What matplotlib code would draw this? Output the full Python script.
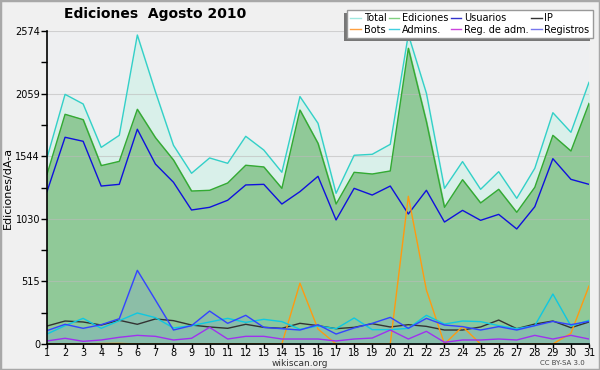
import matplotlib
matplotlib.use("Agg")
import matplotlib.pyplot as plt
from matplotlib.patches import Rectangle
import numpy as np

days = list(range(1, 32))
total = [1530, 2053, 1974, 1617, 1716, 2541, 2075, 1634, 1404, 1530, 1486, 1708, 1595, 1412, 2035,
         1815, 1239, 1552, 1560, 1642, 2545, 2062, 1280, 1500, 1272, 1417, 1198, 1445, 1902, 1741, 2152]
ediciones = [1395, 1889, 1845, 1467, 1502, 1930, 1697, 1513, 1258, 1264, 1324, 1470, 1456, 1280, 1924,
             1650, 1151, 1412, 1398, 1423, 2432, 1828, 1124, 1351, 1160, 1272, 1083, 1289, 1716, 1587, 1979]
usuarios = [1253, 1700, 1667, 1299, 1313, 1766, 1480, 1330, 1102, 1124, 1182, 1308, 1313, 1151, 1253,
            1379, 1020, 1280, 1225, 1299, 1069, 1264, 1003, 1099, 1017, 1066, 946, 1129, 1524, 1354, 1313]
ip = [148, 189, 181, 156, 195, 162, 206, 192, 156, 140, 129, 162, 137, 129, 170,
      151, 126, 137, 167, 140, 159, 145, 115, 115, 140, 197, 126, 164, 189, 134, 181]
bots = [0, 0, 0, 4, 5, 0, 0, 0, 0, 0, 0, 0, 0, 0, 500,
        123, 0, 0, 0, 0, 1215, 444, 0, 143, 0, 0, 0, 0, 0, 88, 477]
admins = [82, 151, 211, 129, 192, 255, 217, 132, 151, 181, 211, 178, 203, 184, 121,
          148, 126, 214, 118, 118, 129, 236, 164, 189, 184, 151, 126, 151, 411, 148, 195]
regadm = [25, 47, 22, 33, 55, 71, 63, 33, 47, 137, 41, 63, 63, 41, 41,
          41, 25, 41, 49, 115, 41, 104, 14, 33, 33, 41, 33, 71, 41, 71, 41]
registros = [110, 162, 129, 159, 208, 606, 362, 115, 151, 271, 170, 236, 137, 126, 115,
             159, 82, 132, 170, 219, 129, 211, 156, 143, 115, 143, 115, 151, 186, 159, 186]
yticks = [0, 515, 1030, 1544, 2059, 2574]

fig = plt.figure(figsize=(6, 3.7), dpi=100, facecolor="#f0f0f0")
fig.patches.append(Rectangle((0, 0), 1, 1, transform=fig.transFigure, fill=False,
                             edgecolor="#a8a8a8", linewidth=2.5))
ax = fig.add_axes([47/600, 26/370, 542/600, 313/370])
ax.set_facecolor("#eeeff1")

ax.fill_between(days, total, color="#d9f0ea", zorder=1)
ax.fill_between(days, ediciones, color="#90c998", zorder=2)
ax.fill_between(days, registros, color="#7a8cf0", alpha=0.18, zorder=2.5)
ax.fill_between(days, admins, color="#60c0d0", alpha=0.10, zorder=2.5)

lw = 1.0
ax.plot(days, total, color="#33d0c8", lw=lw, zorder=5)
ax.plot(days, ediciones, color="#33aa33", lw=lw, zorder=5)
ax.plot(days, usuarios, color="#1010dd", lw=lw, zorder=5)
ax.plot(days, ip, color="#333333", lw=lw, zorder=5)
ax.plot(days, bots, color="#ff9a10", lw=lw, zorder=5)
ax.plot(days, admins, color="#10c8e0", lw=lw, zorder=5)
ax.plot(days, regadm, color="#a030f0", lw=lw, zorder=5)
ax.plot(days, registros, color="#3344ff", lw=lw, zorder=5)

ax.set_xlim(1, 31)
ax.set_ylim(0, 2574)
ax.set_xticks(days)
ax.set_yticks(yticks)
ax.set_yticks([257.5, 772.5, 1287, 1801.5, 2316.5], minor=True)
ax.tick_params(axis="y", labelsize=7, length=4, width=1, color="black", pad=1)
ax.tick_params(axis="x", labelsize=7, length=3, width=1, color="black", pad=0)
ax.tick_params(axis="y", which="minor", length=4, width=1)
ax.grid(axis="y", color="#bbbbbb", lw=0.8, alpha=0.6, zorder=3)
ax.set_axisbelow(False)
for s in ["top", "right"]:
    ax.spines[s].set_visible(False)
ax.spines["left"].set_linewidth(1.2)
ax.spines["bottom"].set_linewidth(1.2)
ax.spines["left"].set_zorder(6)
ax.spines["bottom"].set_zorder(6)
ax.set_ylabel("Ediciones/dÃ-a", fontsize=8, labelpad=2)

fig.text(155/600, 1 - 14/370, "Ediciones  Agosto 2010", fontsize=10, fontweight="bold",
         ha="center", va="center")
fig.text(300/600, 1 - 363/370, "wikiscan.org", fontsize=6.5, ha="center", va="center", color="#333333")
fig.text(562/600, 1 - 363/370, "CC BY-SA 3.0", fontsize=5, ha="center", va="center", color="#444444")

labels = ["Total", "Bots", "Ediciones", "Admins.", "Usuarios", "Reg. de adm.", "IP", "Registros"]
colors = ["#a0e8e0", "#ffa040", "#80d080", "#40d0e0", "#3333cc", "#cc44dd", "#333333", "#7777ee"]
handles = [plt.Line2D([], [], color=c, lw=1) for c in colors]
leg = fig.legend(handles, labels, ncol=4, loc="upper right", bbox_to_anchor=(593/600, 1 - 10/370),
                 fontsize=7, frameon=True, fancybox=False, shadow=False,
                 handlelength=1.1, handletextpad=0.3, columnspacing=0.2, labelspacing=0.15,
                 borderpad=0.35, borderaxespad=0)
leg.get_frame().set_edgecolor("#999999")
leg.get_frame().set_facecolor("white")
leg.get_frame().set_alpha(1)
leg.set_zorder(10)
fig.canvas.draw()
bb = leg.get_window_extent().transformed(fig.transFigure.inverted())
fig.patches.append(Rectangle((bb.x0 - 3/600, bb.y0 - 3/370), bb.width, bb.height,
                             transform=fig.transFigure, facecolor="#777777", edgecolor="none", zorder=9))

fig.savefig("out.png", dpi=100, facecolor=fig.get_facecolor())
